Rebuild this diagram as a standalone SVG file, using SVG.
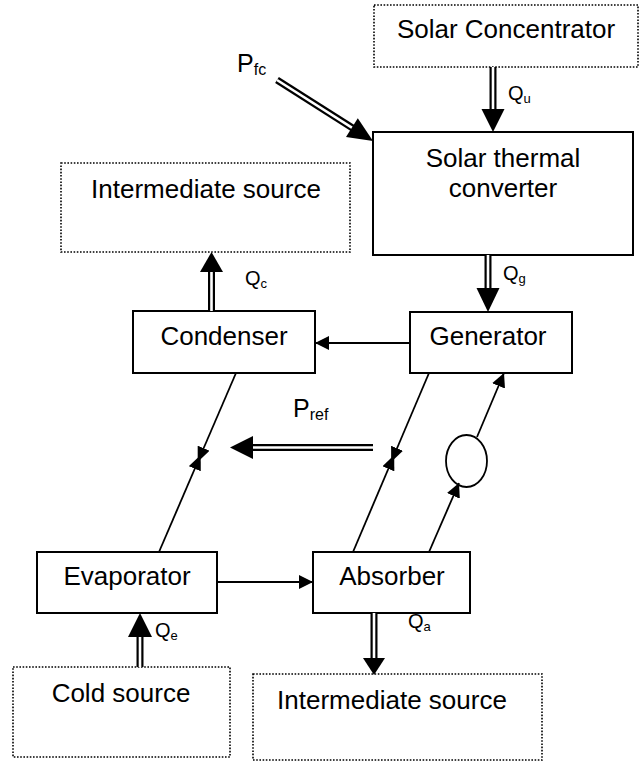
<svg xmlns="http://www.w3.org/2000/svg" width="643" height="762" viewBox="0 0 643 762">
<style>
text{font-family:"Liberation Sans",Arial,sans-serif;fill:#000}
.lbl{font-size:26px;text-anchor:middle}
.box{fill:#fff;stroke:#000;stroke-width:2}
.dot{fill:#fff;stroke:#000;stroke-width:1.6;stroke-dasharray:1.6 1.6}
.ln{stroke:#000;stroke-width:1.8;fill:none}
.dblb{stroke:#000;stroke-width:7;fill:none}
.dblw{stroke:#fff;stroke-width:2.6;fill:none}
.head{fill:#000;stroke:none}
.q{font-size:20px}
.qs{font-size:13px}
.p{font-size:25px}
.ps{font-size:16px}
</style>
<defs>
<marker id="arr" markerUnits="userSpaceOnUse" markerWidth="15" markerHeight="15" refX="14" refY="7" orient="auto">
<path d="M0,0 L14,7 L0,14 z" fill="#000"/>
</marker>
<marker id="arrs" markerUnits="userSpaceOnUse" markerWidth="16" markerHeight="14" refX="15" refY="6.5" orient="auto">
<path d="M0,0 L15,6.5 L0,13 z" fill="#000"/>
</marker>
</defs>

<g id="solar-concentrator">
<rect class="dot" x="374" y="5" width="264" height="62"/>
<text class="lbl" x="506" y="38">Solar Concentrator</text>
</g>
<g id="solar-thermal-converter">
<rect class="box" x="373" y="132" width="260" height="123"/>
<text class="lbl" x="503" y="167">Solar thermal</text>
<text class="lbl" x="503" y="197">converter</text>
</g>
<g id="intermediate-source-top">
<rect class="dot" x="61" y="163" width="289" height="89"/>
<text class="lbl" x="206" y="198">Intermediate source</text>
</g>
<g id="condenser">
<rect class="box" x="133" y="311" width="182" height="62"/>
<text class="lbl" x="224" y="345">Condenser</text>
</g>
<g id="generator">
<rect class="box" x="410" y="312" width="162" height="61"/>
<text class="lbl" x="488" y="345">Generator</text>
</g>
<g id="pump">
<ellipse cx="466.5" cy="461" rx="20.5" ry="26" fill="#fff" stroke="#000" stroke-width="1.8"/>
</g>
<g id="evaporator">
<rect class="box" x="37" y="552" width="180" height="61"/>
<text class="lbl" x="127" y="585">Evaporator</text>
</g>
<g id="absorber">
<rect class="box" x="313" y="552" width="157" height="61"/>
<text class="lbl" x="392" y="585">Absorber</text>
</g>
<g id="cold-source">
<rect class="dot" x="13" y="667" width="217" height="90"/>
<text class="lbl" x="121" y="702">Cold source</text>
</g>
<g id="intermediate-source-bottom">
<rect class="dot" x="253" y="674" width="289" height="86"/>
<text class="lbl" x="392" y="709">Intermediate source</text>
</g>

<g id="connectors">
<!-- Qu -->
<line class="dblb" x1="493" y1="67" x2="493" y2="110"/>
<line class="dblw" x1="493" y1="67" x2="493" y2="110"/>
<polygon class="head" points="481.5,109 504.5,109 493,132"/>
<!-- Pfc -->
<line class="dblb" x1="277" y1="80" x2="353" y2="128.3"/>
<line class="dblw" x1="277" y1="80" x2="353" y2="128.3"/>
<polygon class="head" points="357.8,118.3 346,136.9 373,141"/>
<!-- Qg -->
<line class="dblb" x1="488" y1="255" x2="488" y2="289"/>
<line class="dblw" x1="488" y1="255" x2="488" y2="289"/>
<polygon class="head" points="476.5,288 499.5,288 488,312"/>
<!-- Qc -->
<line class="dblb" x1="211.5" y1="311" x2="211.5" y2="271"/>
<line class="dblw" x1="211.5" y1="311" x2="211.5" y2="271"/>
<polygon class="head" points="200,272 223,272 211.5,252"/>
<!-- Qe -->
<line class="dblb" x1="140" y1="667" x2="140" y2="636"/>
<line class="dblw" x1="140" y1="667" x2="140" y2="636"/>
<polygon class="head" points="128,637 152,637 140,613"/>
<!-- Qa -->
<line class="dblb" x1="374" y1="613" x2="374" y2="659"/>
<line class="dblw" x1="374" y1="613" x2="374" y2="659"/>
<polygon class="head" points="363,658 385,658 374,675"/>
<!-- Pref -->
<line class="dblb" x1="373" y1="447.5" x2="252" y2="447.5"/>
<line class="dblw" x1="373" y1="447.5" x2="252" y2="447.5"/>
<polygon class="head" points="253,436 253,459 230,447.5"/>

<!-- generator -> condenser -->
<line class="ln" x1="410" y1="343" x2="315" y2="343" marker-end="url(#arr)"/>
<!-- evaporator -> absorber -->
<line class="ln" x1="217" y1="582" x2="313" y2="582" marker-end="url(#arr)"/>
<!-- condenser <-> evaporator (bow-tie) -->
<line class="ln" x1="236" y1="373" x2="197.7" y2="462" marker-end="url(#arrs)"/>
<line class="ln" x1="159" y1="552" x2="200.7" y2="455" marker-end="url(#arrs)"/>
<!-- generator <-> absorber (bow-tie) -->
<line class="ln" x1="429" y1="373" x2="391.2" y2="462" marker-end="url(#arrs)"/>
<line class="ln" x1="353" y1="552" x2="394.2" y2="455" marker-end="url(#arrs)"/>
<!-- absorber -> pump -> generator -->
<line class="ln" x1="429" y1="552" x2="459" y2="483" marker-end="url(#arr)"/>
<line class="ln" x1="477" y1="437" x2="504" y2="373" marker-end="url(#arr)"/>
</g>

<g id="labels">
<text x="237" y="72"><tspan class="p">P</tspan><tspan class="ps" dy="3">fc</tspan></text>
<text x="508" y="100"><tspan class="q">Q</tspan><tspan class="qs" dy="3">u</tspan></text>
<text x="503" y="280"><tspan class="q">Q</tspan><tspan class="qs" dy="3">g</tspan></text>
<text x="245" y="285"><tspan class="q">Q</tspan><tspan class="qs" dy="3">c</tspan></text>
<text x="293" y="417"><tspan class="p">P</tspan><tspan class="ps" dy="3">ref</tspan></text>
<text x="155" y="637"><tspan class="q">Q</tspan><tspan class="qs" dy="3">e</tspan></text>
<text x="408" y="628"><tspan class="q">Q</tspan><tspan class="qs" dy="3">a</tspan></text>
</g>
</svg>
